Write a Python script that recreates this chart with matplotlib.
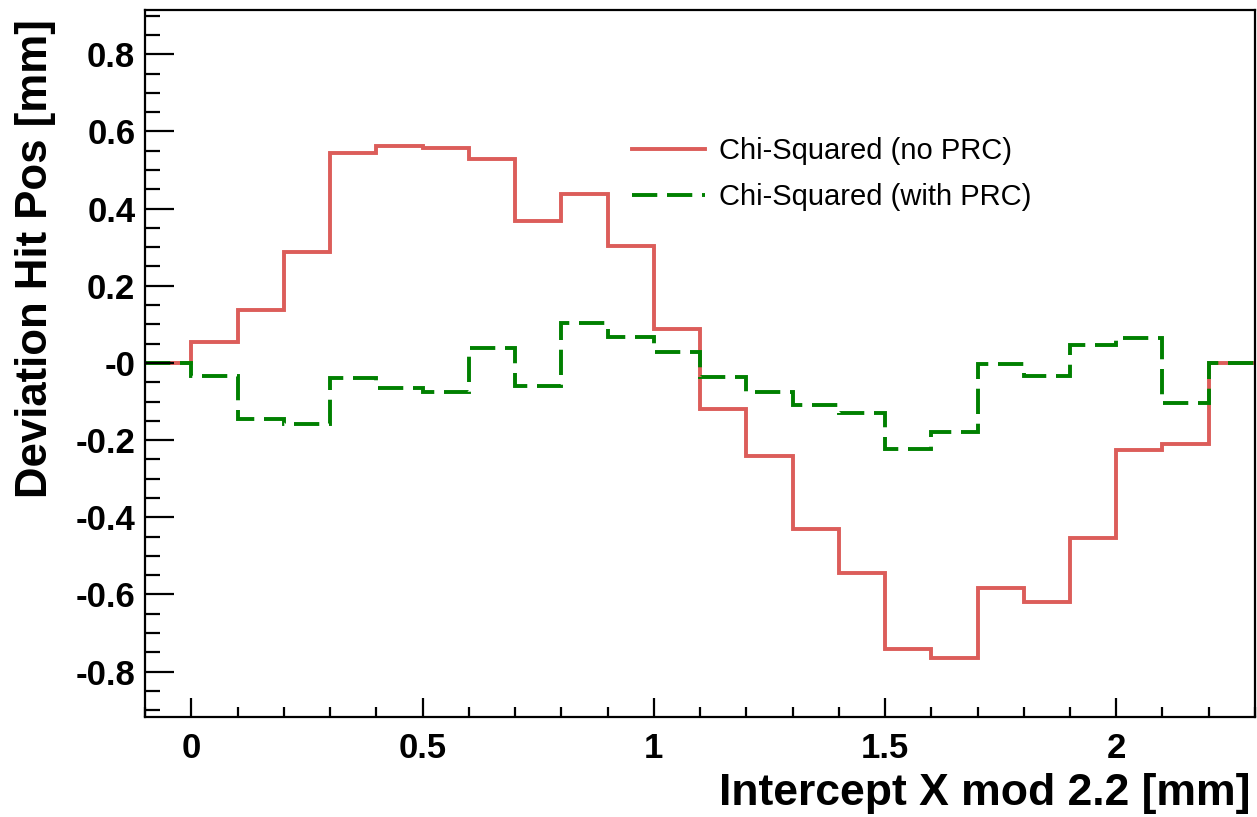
import numpy as np
import matplotlib.pyplot as plt
from matplotlib.ticker import MultipleLocator, FixedLocator

plt.rcParams['font.family'] = ['Liberation Sans', 'DejaVu Sans']

# bin edges of the histograms (0.1 mm bins)
edges = np.round(np.arange(-0.1, 2.3001, 0.1), 2)

# deviation per bin, chi-squared without PRC
no_prc = [0.0, 0.053, 0.138, 0.287, 0.545, 0.562, 0.558, 0.528, 0.367, 0.438,
          0.304, 0.089, -0.120, -0.240, -0.431, -0.545, -0.742, -0.765,
          -0.584, -0.621, -0.454, -0.225, -0.211, 0.0]

# deviation per bin, chi-squared with PRC
with_prc = [0.0, -0.033, -0.146, -0.159, -0.040, -0.066, -0.076, 0.038, -0.061,
            0.103, 0.066, 0.029, -0.037, -0.076, -0.109, -0.131, -0.224,
            -0.178, -0.003, -0.034, 0.047, 0.064, -0.103, 0.0]

labels = ['Chi-Squared (no PRC)', 'Chi-Squared (with PRC)']
yticks = [-0.8, -0.6, -0.4, -0.2, 0.0, 0.2, 0.4, 0.6, 0.8]
yticklabels = ['-0.8', '-0.6', '-0.4', '-0.2', '-0', '0.2', '0.4', '0.6', '0.8']
xticks = [0, 0.5, 1, 1.5, 2]
xticklabels = ['0', '0.5', '1', '1.5', '2']

fig = plt.figure(figsize=(12.57, 8.17), dpi=100)
ax = fig.add_axes([0.1154, 0.1228, 0.8830, 0.8650])

ax.stairs(no_prc, edges, baseline=None, color='#dc5d5a', lw=2.8,
          label=labels[0])
ax.stairs(with_prc, edges, baseline=None, color='#008000', lw=2.8,
          linestyle=(0, (6.5, 2.5)), label=labels[1])

ax.set_xlim(-0.1, 2.3)
ax.set_ylim(-0.917, 0.915)

ax.yaxis.set_major_locator(FixedLocator(yticks))
ax.set_yticklabels(yticklabels)
ax.yaxis.set_minor_locator(MultipleLocator(0.05))
ax.xaxis.set_major_locator(FixedLocator(xticks))
ax.set_xticklabels(xticklabels)
ax.xaxis.set_minor_locator(MultipleLocator(0.1))

ax.tick_params(axis='y', which='major', direction='in', length=21, width=1.6,
               labelsize=25, pad=7)
ax.tick_params(axis='y', which='minor', direction='in', length=11, width=1.6)
ax.tick_params(axis='x', which='major', direction='in', length=14, width=1.6,
               labelsize=25, pad=11)
ax.tick_params(axis='x', which='minor', direction='in', length=7, width=1.6)
for lab in ax.get_xticklabels() + ax.get_yticklabels():
    lab.set_fontweight('bold')
for sp in ax.spines.values():
    sp.set_linewidth(1.6)

fig.text(0.995, 0.004, 'Intercept X mod 2.2 [mm]', ha='right', va='bottom',
         fontsize=32, fontweight='bold')
fig.text(0.012, 0.976, 'Deviation Hit Pos [mm]', ha='left', va='top',
         rotation=90, fontsize=31.5, fontweight='bold')

leg = ax.legend(loc='upper left', bbox_to_anchor=(0.415, 0.857), frameon=False,
                fontsize=21, handlelength=2.5, handletextpad=0.5,
                labelspacing=0.62)

fig.savefig('out.png', dpi=100)
